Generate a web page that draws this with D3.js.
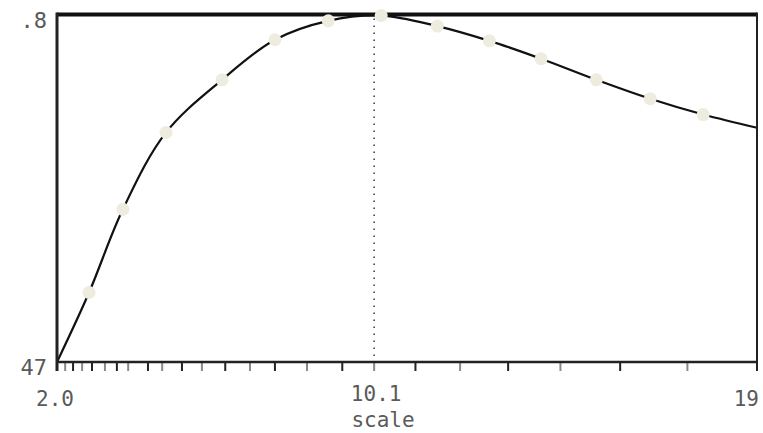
<!DOCTYPE html>
<html>
<head>
<meta charset="utf-8">
<script src="https://cdn.jsdelivr.net/npm/d3@7/dist/d3.min.js"></script>
<style>
  body { margin: 0; background: #fff; }
  svg text { font-family: "DejaVu Sans Mono", monospace; fill: #5a5a5a; }
</style>
</head>
<body>
<svg id="chart" width="763" height="433"></svg>
<script>
// scale values of the sampled points and the score at each one
let scaleVals = [2.0, 2.89, 3.80, 4.93, 6.36, 7.68, 8.99, 10.27, 11.61, 12.84, 14.05, 15.33, 16.57, 17.78, 19.0];
let scoreVals = [0.47, 0.536, 0.615, 0.688, 0.738, 0.776, 0.794, 0.799, 0.789, 0.775, 0.758, 0.738, 0.720, 0.705, 0.6925];
// which of them carry a marker (first and last are only curve ends)
let marked = [false, true, true, true, true, true, true, true, true, true, true, true, true, true, false];

let xTicks = [2.0, 2.23, 2.45, 2.70, 2.97, 3.32, 3.64, 3.94, 4.46, 4.83, 5.34, 5.85, 6.44, 7.06,
              7.68, 8.47, 9.33, 10.1, 11.09, 12.15, 13.28, 14.5, 15.88, 17.42, 19.0];
let xLabels = [[2.0, "2.0"], [10.1, "10.1"], [19.0, "19"]];
let yLabels = [[0.8, ".8"], [0.47, "47"]];
let peak = 10.1;

let svg = d3.select("#chart");
let pLeft = 57, pRight = 757, pTop = 14.5, pBottom = 362;

let x = d3.scalePow().exponent(1.1).domain([2, 19]).range([pLeft, pRight]);
let y = d3.scaleLinear().domain([0.47, 0.8]).range([pBottom, pTop]);

// ticks under the axis, alternating dark / light
svg.append("g").selectAll("line")
  .data(xTicks)
  .enter().append("line")
  .attr("x1", d => x(d)).attr("x2", d => x(d))
  .attr("y1", pBottom).attr("y2", pBottom + 9)
  .attr("stroke", (d, i) => i % 2 ? "#8a8a8a" : "#222")
  .attr("stroke-width", 2);

// dotted line at the peak
svg.append("line")
  .attr("x1", x(peak)).attr("x2", x(peak))
  .attr("y1", pTop + 4).attr("y2", pBottom)
  .attr("stroke", "#444")
  .attr("stroke-width", 1.6)
  .attr("stroke-dasharray", "1.6,5.4");

// the curve
let pts = scaleVals.map((v, i) => [v, scoreVals[i]]);
let line = d3.line()
  .x(d => x(d[0]))
  .y(d => y(d[1]))
  .curve(d3.curveCatmullRom.alpha(0.5));

svg.append("path")
  .datum(pts)
  .attr("d", line)
  .attr("fill", "none")
  .attr("stroke", "#111")
  .attr("stroke-width", 2.2);

// frame
svg.append("line").attr("x1", pLeft).attr("x2", pRight).attr("y1", pTop).attr("y2", pTop)
  .attr("stroke", "#111").attr("stroke-width", 4);
svg.append("line").attr("x1", pLeft).attr("x2", pLeft).attr("y1", pTop - 2).attr("y2", pBottom + 9)
  .attr("stroke", "#222").attr("stroke-width", 3);
svg.append("line").attr("x1", pRight).attr("x2", pRight).attr("y1", pTop - 2).attr("y2", pBottom + 9)
  .attr("stroke", "#222").attr("stroke-width", 2);
svg.append("line").attr("x1", pLeft).attr("x2", pRight).attr("y1", pBottom).attr("y2", pBottom)
  .attr("stroke", "#222").attr("stroke-width", 2.5);

// markers
svg.append("g").selectAll("circle")
  .data(pts.filter((d, i) => marked[i]))
  .enter().append("circle")
  .attr("cx", d => x(d[0]))
  .attr("cy", d => y(d[1]))
  .attr("r", 6.5)
  .attr("fill", "#eeebdf");

// x labels
svg.append("g").selectAll("text")
  .data(xLabels)
  .enter().append("text")
  .attr("x", (d, i) => i === 2 ? x(d[0]) + 2 : x(d[0]) + (i === 0 ? -2 : 2))
  .attr("y", (d, i) => i === 1 ? 401 : 406)
  .attr("text-anchor", (d, i) => i === 2 ? "end" : "middle")
  .attr("font-size", 21)
  .text(d => d[1]);

svg.append("text")
  .attr("x", 383).attr("y", 427)
  .attr("text-anchor", "middle")
  .attr("font-size", 21)
  .text("scale");

// y labels
svg.append("g").selectAll("text")
  .data(yLabels)
  .enter().append("text")
  .attr("x", 47)
  .attr("y", d => y(d[0]) + 13)
  .attr("text-anchor", "end")
  .attr("font-size", 22)
  .text(d => d[1]);
</script>
</body>
</html>
